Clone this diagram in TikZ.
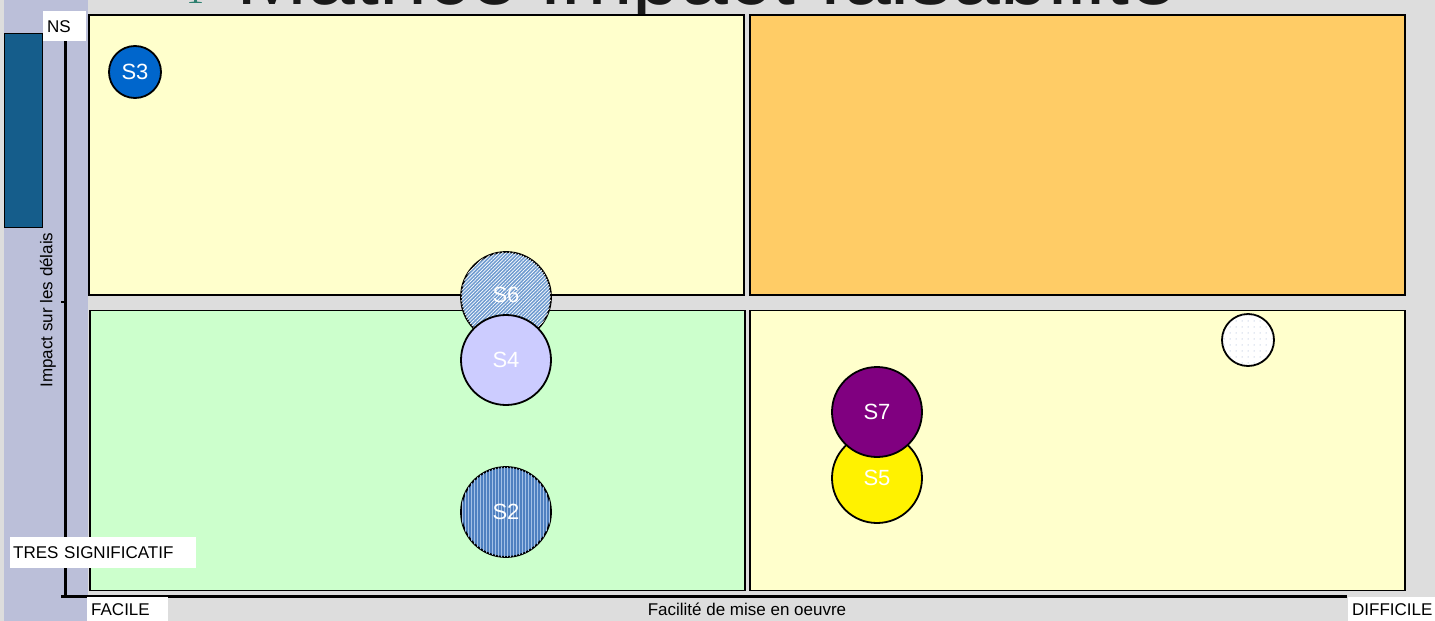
\documentclass[tikz,border=0pt]{standalone}
\usepackage{fontspec}
\setmainfont{Liberation Sans}
\newfontfamily\serifnum{Liberation Serif}
\usetikzlibrary{patterns.meta}

\definecolor{paneBg}{HTML}{DDDDDD}
\definecolor{bandLav}{HTML}{BBBFD9}
\definecolor{barNavy}{HTML}{155D8B}
\definecolor{paleYellow}{HTML}{FFFFCC}
\definecolor{mint}{HTML}{CCFFCC}
\definecolor{apricot}{HTML}{FFCC66}
\definecolor{deepBlue}{HTML}{0066CC}
\definecolor{lilac}{HTML}{CCCCFF}
\definecolor{plum}{HTML}{800080}
\definecolor{hatchBlue}{HTML}{6F9BD0}
\definecolor{weaveBlue}{HTML}{4F80C0}
\definecolor{weaveLight}{HTML}{A3C0E6}
\definecolor{dotGrey}{HTML}{8CA0C8}
\definecolor{tealNum}{HTML}{2E8070}

\begin{document}
\begin{tikzpicture}[
        x=1pt, y=-1pt,
        quad/.style={rectangle, draw, line width=1.6pt, minimum width=655pt, minimum height=280pt, inner sep=0pt},
        bubble/.style={circle, draw, line width=1.8pt, inner sep=0pt, minimum size=90pt, text=white, font=\fontsize{22}{26}\selectfont},
        tag/.style={rectangle, fill=white, anchor=north west, inner ysep=0pt, align=left, font=\fontsize{17}{20}\selectfont},
        axis/.style={line width=3pt}
    ]
        \useasboundingbox (0,0) rectangle (1435,621);
        \fill[paneBg] (0,0) rectangle (1435,621);
        \fill[bandLav] (4,0) rectangle (88,621);

        % Title, cut by the top edge
        \begin{scope}
            \clip (0,0) rectangle (1435,621);
            \node[anchor=base west, inner sep=0pt, font=\fontsize{86}{90}\selectfont, text=black!90] (title) at (236,5) {Matrice impact faisabilité};
            \node[anchor=base, inner sep=0pt, font=\serifnum\fontsize{36}{40}\selectfont, text=tealNum] (num) at (195,3) {1};
        \end{scope}

        % Side bar
        \node[rectangle, draw, line width=0.8pt, fill=barNavy, anchor=north west, minimum width=38pt, minimum height=194pt, inner sep=0pt] (bar) at (4,33) {};

        % Quadrants
        \foreach \q/\cx/\cy/\col in {tl/416.5/155/paleYellow, tr/1077.5/155/apricot, bl/417.5/450.5/mint, br/1077.5/450.5/paleYellow} {
            \node[quad, fill=\col] (Q\q) at (\cx,\cy) {};
        }

        % Axes
        \coordinate (ytop) at (65,20);
        \coordinate (ybot) at (65,597);
        \coordinate (ymid) at (65,302);
        \coordinate (ytopTick) at (61,20);
        \coordinate (ymidTick) at (61,302);
        \coordinate (xstart) at (61,596);
        \coordinate (xend) at (1347,596);
        \draw[axis] (ytop) -- (ybot);
        \draw[axis] (xstart) -- (xend);
        \draw[line width=1.5pt] (ytop) -- (ytopTick);
        \draw[line width=1.5pt] (ymid) -- (ymidTick);

        % Bubbles
        \node[bubble, fill=deepBlue, minimum size=52pt] (S3) at (135,72) {S3};
        \node[bubble, fill=hatchBlue, postaction={pattern={Lines[angle=45, distance=2.5pt, line width=0.7pt]}, pattern color=white}] (S6) at (506,297) {\raisebox{5pt}{S6}};
        \node[bubble, fill=lilac] (S4) at (506,360) {S4};
        \node[bubble, fill=weaveBlue, postaction={pattern={Lines[angle=90, distance=3pt, line width=0.9pt]}, pattern color=weaveLight}] (S2) at (506,512) {S2};
        \node[bubble, fill=yellow] (S5) at (877,478) {S5};
        \node[bubble, fill=plum] (S7) at (877,412) {S7};
        \node[bubble, fill=white, minimum size=52pt, postaction={pattern={Dots[distance=6pt, radius=0.5pt]}, pattern color=dotGrey}] (blank) at (1248,340) {};

        % Labels
        \node[tag, inner xsep=4pt, text width=35pt, minimum height=30pt] (ns) at (43,11) {NS};
        \node[tag, inner xsep=3pt, text width=180pt, minimum height=31pt] (tres) at (10,537) {TRES SIGNIFICATIF};
        \node[tag, inner xsep=4pt, text width=73pt, minimum height=24pt] (facile) at (87,597) {FACILE};
        \node[tag, inner xsep=4pt, text width=79pt, minimum height=24pt] (difficile) at (1348,597) {DIFFICILE};
        \node[font=\fontsize{17}{20}\selectfont, inner sep=0pt] (xlab) at (747,609) {Facilité de mise en oeuvre};
        \node[font=\fontsize{17}{20}\selectfont, inner sep=0pt, rotate=90] (ylab) at (48,310) {Impact sur les délais};
    \end{tikzpicture}
\end{document}
